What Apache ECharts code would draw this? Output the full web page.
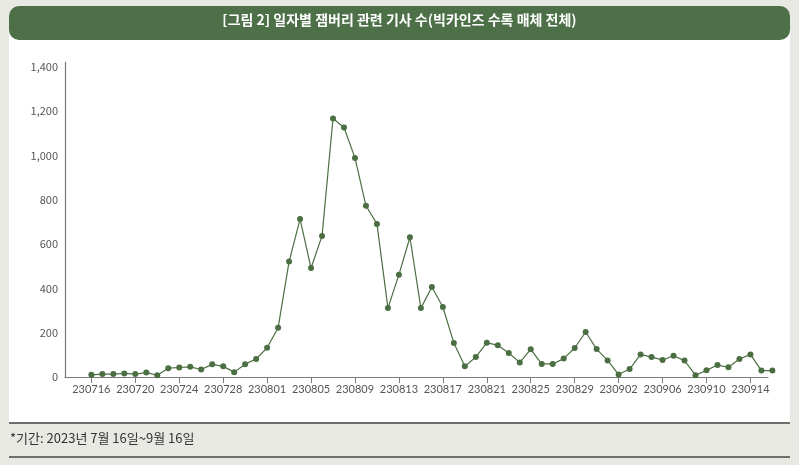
<!DOCTYPE html>
<html>
<head>
<meta charset="utf-8">
<script src="https://cdn.jsdelivr.net/npm/echarts@6/dist/echarts.min.js"></script>
<style>
  html, body { margin: 0; padding: 0; background: #e9e9e4; }
  #main { width: 799px; height: 465px; }
</style>
</head>
<body>
<div id="main"></div>
<script>
// 일자별 잼버리 관련 기사 수
const dates = [
  '230716','230717','230718','230719','230720','230721','230722','230723',
  '230724','230725','230726','230727','230728','230729','230730','230731',
  '230801','230802','230803','230804','230805','230806','230807','230808',
  '230809','230810','230811','230812','230813','230814','230815','230816',
  '230817','230818','230819','230820','230821','230822','230823','230824',
  '230825','230826','230827','230828','230829','230830','230831',
  '230901','230902','230903','230904','230905','230906','230907','230908',
  '230909','230910','230911','230912','230913','230914','230915','230916'
];
const counts = [
  10, 13, 13, 16, 13, 20, 8, 40, 43, 46, 34, 57, 48, 22, 58, 81,
  132, 222, 521, 713, 492, 637, 1167, 1126, 989, 773, 691, 311, 462, 631, 311, 406,
  316, 154, 48, 90, 155, 143, 108, 66, 125, 59, 59, 83, 131, 203, 126,
  75, 11, 36, 102, 90, 77, 96, 74, 8, 30, 54, 44, 81, 102, 29, 29
];
const labelEvery = 4;

const lineColor = '#4b6f43';
const tickIdx = dates.map((d, i) => i).filter(i => i % labelEvery === 0 && i < dates.length - 2);

const chart = echarts.init(document.getElementById('main'));
chart.setOption({
  backgroundColor: '#e9e9e4',
  animation: false,
  graphic: [
    { type: 'rect', shape: { x: 9, y: 30, width: 781, height: 392 }, style: { fill: '#ffffff' }, z: -10 },
    { type: 'rect', shape: { x: 9, y: 422, width: 781, height: 2 }, style: { fill: '#6e6e6b' }, z: -10 },
    { type: 'rect', shape: { x: 9, y: 456, width: 781, height: 2 }, style: { fill: '#6e6e6b' }, z: -10 },
    { type: 'rect', shape: { x: 9, y: 6, width: 781, height: 34, r: 10 }, style: { fill: '#4d7048' }, z: -5 },
    {
      type: 'text', left: 'center', top: 13,
      style: { text: '[그림 2] 일자별 잼버리 관련 기사 수(빅카인즈 수록 매체 전체)', fill: '#ffffff',
        font: 'bold 14px "Noto Sans CJK KR"' }
    },
    {
      type: 'text', left: 10, top: 432,
      style: { text: '*기간: 2023년 7월 16일~9월 16일', fill: '#333333',
        font: '13px "Noto Sans CJK KR"' }
    }
  ],
  grid: { left: 65, right: 31, top: 62, bottom: 88, containLabel: false },
  xAxis: {
    type: 'value',
    min: -2.4,
    max: 61.6,
    splitLine: { show: false },
    axisLine: { show: true, onZero: false, lineStyle: { color: '#7a7a7a', width: 1.2 } },
    axisTick: { show: true, length: 6, customValues: tickIdx, lineStyle: { color: '#7a7a7a' } },
    axisLabel: {
      customValues: tickIdx,
      formatter: v => dates[Math.round(v)],
      color: '#555555', fontSize: 11, fontFamily: 'Lato', margin: 7
    }
  },
  yAxis: {
    type: 'value',
    min: 0, max: 1422, interval: 200,
    splitLine: { show: false },
    axisLine: { show: true, onZero: false, lineStyle: { color: '#7a7a7a', width: 1.2 } },
    axisTick: { show: false },
    axisLabel: {
      formatter: v => v.toLocaleString('en-US'),
      showMaxLabel: false,
      color: '#555555', fontSize: 11, fontFamily: '"Noto Sans CJK KR"', margin: 7
    }
  },
  series: [{
    type: 'line',
    clip: false,
    data: counts.map((c, i) => [i, c]),
    symbol: 'circle',
    symbolSize: 6,
    lineStyle: { color: lineColor, width: 1.2 },
    itemStyle: { color: lineColor }
  }]
});
</script>
</body>
</html>
